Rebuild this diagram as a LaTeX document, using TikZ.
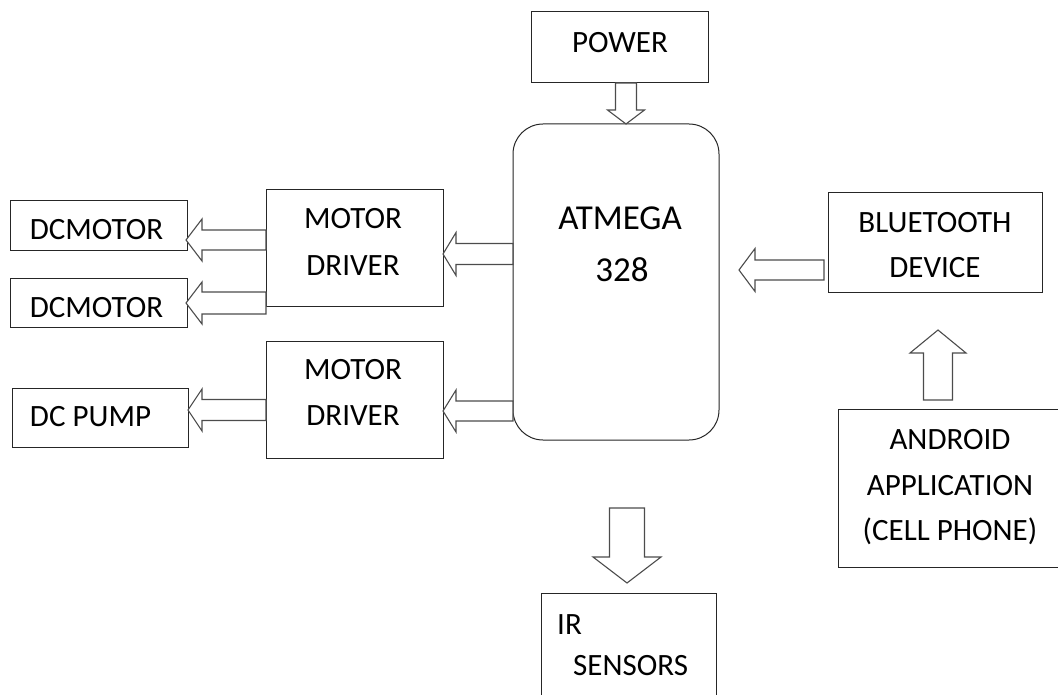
\documentclass[tikz,border=0pt]{standalone}
\usepackage{fontspec}
\setmainfont{Carlito}
\begin{document}
\begin{tikzpicture}[x=1pt,y=-1pt,
  box/.style={draw=black!85,line width=1pt,fill=white,inner sep=0pt},
  arr/.style={draw=black!70,line width=1.1pt,fill=white,line join=miter},
  bigtxt/.style={inner sep=0pt,align=center,font=\fontsize{35}{52}\selectfont},
  txt/.style={inner sep=0pt,align=center,font=\fontsize{31}{46}\selectfont}]
\useasboundingbox (0,0) rectangle (1058,695);
\newcommand\larrow[6]{\draw[arr] (#1,#4) -- (#2,#4-#6) -- (#2,#4-#5) -- (#3,#4-#5) -- (#3,#4+#5) -- (#2,#4+#5) -- (#2,#4+#6) -- cycle;}
\newcommand\varrow[6]{\draw[arr] (#4,#1) -- (#4-#6,#2) -- (#4-#5,#2) -- (#4-#5,#3) -- (#4+#5,#3) -- (#4+#5,#2) -- (#4+#6,#2) -- cycle;}
% boxes
\node[box,minimum width=177pt,minimum height=71pt] (power) at (619.5,47.5) {};
\node[box,minimum width=206pt,minimum height=316pt,rounded corners=30pt] (atm) at (616,282) {};
\node[box,minimum width=177pt,minimum height=116pt] (md1) at (354.5,248) {};
\node[box,minimum width=177pt,minimum height=117pt] (md2) at (354.5,399.5) {};
\node[box,minimum width=177pt,minimum height=50pt] (dcm1) at (98.5,226) {};
\node[box,minimum width=177pt,minimum height=48pt] (dcm2) at (98.5,303) {};
\node[box,minimum width=176pt,minimum height=59pt] (pump) at (100,417.5) {};
\node[box,minimum width=214pt,minimum height=99pt] (bt) at (935,242.5) {};
\node[box,minimum width=220pt,minimum height=158pt] (and) at (948,488) {};
\draw[draw=black!85,line width=1pt] (541,705) -- (541,593) coordinate (irtl) -- (716,593) coordinate (irtr) -- (716,705);
% texts
\node[txt] (powert) at (620,42.5) {POWER};
\node[bigtxt] (atmt1) at (620,218) {ATMEGA};
\node[bigtxt] (atmt2) at (622,270) {328};
\node[txt,font=\fontsize{31}{47}\selectfont] (md1t) at (353,241.5) {MOTOR\\DRIVER};
\node[txt] (md2t) at (353,392) {MOTOR\\DRIVER};
\node[txt] (dcm1t) at (96.5,230) {DCMOTOR};
\node[txt] (dcm2t) at (96.5,307.5) {DCMOTOR};
\node[txt] (pumpt) at (90.5,417) {DC PUMP};
\node[txt,font=\fontsize{31}{45}\selectfont] (btt) at (935,245.5) {BLUETOOTH\\DEVICE};
\node[txt,font=\fontsize{31}{45.5}\selectfont] (andt) at (950,487.5) {ANDROID\\APPLICATION\\(CELL PHONE)};
\node[txt,anchor=west] (ir1) at (557,625) {IR};
\node[txt,anchor=west] (ir2) at (573,666) {SENSORS};
% block arrows
\larrow{186}{202}{266}{240}{10}{21}
\larrow{186}{202}{266}{303}{11}{21}
\larrow{188}{202}{266}{410}{10.5}{21}
\larrow{443}{456}{513}{254}{10.5}{21.5}
\larrow{443}{456}{513}{411}{10}{21}
\larrow{739}{755}{824}{270}{10}{21.5}
\varrow{124}{110}{83}{626}{10.5}{18.5}
\varrow{330}{353}{400}{938}{14.5}{28}
\varrow{583}{557}{508}{627}{17.5}{34}
\end{tikzpicture}
\end{document}
